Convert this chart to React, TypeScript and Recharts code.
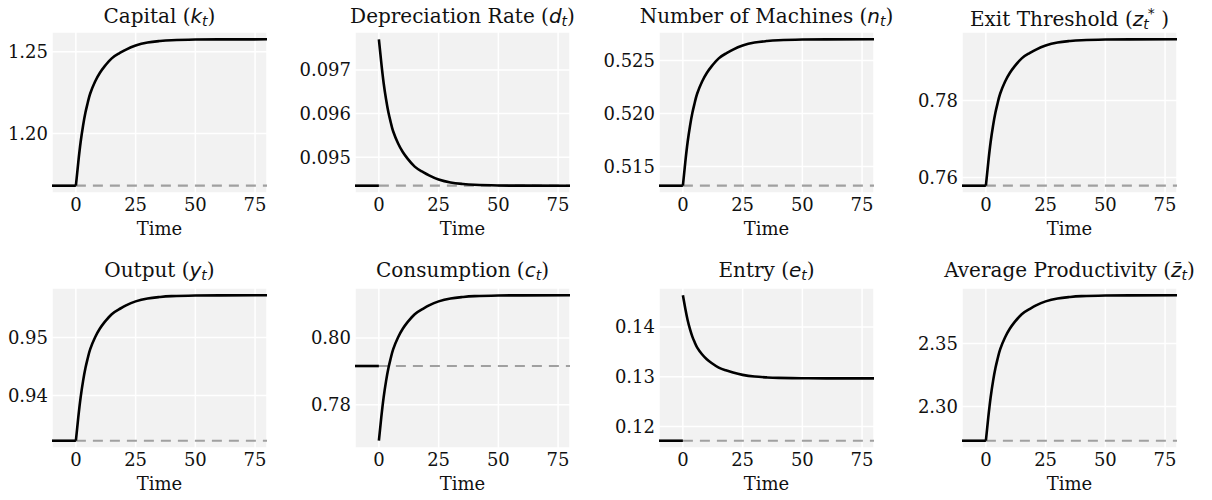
import React from "react";
import { LineChart, Line, XAxis, YAxis, CartesianGrid } from "recharts";

// time points of the transition path (t >= 0); pre-shock segment runs from -10 to 0
const times = [0, 1, 2, 3, 4, 5, 6, 8, 10, 12, 15, 18, 21, 25, 30, 35, 40, 50, 60, 80];

const capital = [1.1681, 1.18242, 1.19495, 1.20479, 1.21285, 1.21911, 1.22448, 1.23164, 1.23701, 1.24104, 1.24596, 1.24892, 1.25133, 1.25384, 1.25563, 1.25653, 1.25706, 1.25747, 1.25756, 1.2576];
const depreciation = [0.0977, 0.097164, 0.096695, 0.096327, 0.096025, 0.095791, 0.09559, 0.095322, 0.095121, 0.09497, 0.094786, 0.094675, 0.094585, 0.094491, 0.094424, 0.09439, 0.09437, 0.094355, 0.094351, 0.09435];
const machines = [0.5132, 0.515408, 0.51734, 0.518858, 0.5201, 0.521066, 0.521894, 0.522998, 0.523826, 0.524447, 0.525206, 0.525661, 0.526034, 0.52642, 0.526696, 0.526834, 0.526917, 0.526979, 0.526994, 0.527];
const exitThreshold = [0.7579, 0.76398, 0.7693, 0.77348, 0.7769, 0.77956, 0.78184, 0.78488, 0.78716, 0.78887, 0.79096, 0.792214, 0.79324, 0.794304, 0.795064, 0.795444, 0.795672, 0.795843, 0.795885, 0.7959];
const output = [0.93223, 0.936235, 0.939739, 0.942492, 0.944745, 0.946497, 0.947999, 0.950001, 0.951503, 0.952629, 0.954006, 0.954832, 0.955508, 0.956209, 0.956709, 0.95696, 0.95711, 0.957222, 0.95725, 0.95726];
const consumption = [0.76926, 0.776228, 0.782325, 0.787115, 0.791035, 0.794083, 0.796696, 0.80018, 0.802793, 0.804753, 0.807148, 0.808586, 0.809761, 0.810981, 0.811852, 0.812287, 0.812549, 0.812745, 0.812793, 0.81281];
const entry = [0.14636, 0.14369, 0.141353, 0.139517, 0.138015, 0.136847, 0.135845, 0.13451, 0.133509, 0.132758, 0.13184, 0.131289, 0.130838, 0.130371, 0.130037, 0.12987, 0.12977, 0.129695, 0.129677, 0.12967];
const avgProductivity = [2.2729, 2.291342, 2.307478, 2.320157, 2.33053, 2.338598, 2.345514, 2.354735, 2.36165, 2.366837, 2.373176, 2.37698, 2.380092, 2.383319, 2.385624, 2.386777, 2.387468, 2.387987, 2.388114, 2.38816];

// initial steady state of each variable, same order as the panels
const initialSteadyState = [1.1681, 0.09435, 0.5132, 0.7579, 0.93223, 0.79163, 0.11715, 2.2729];

const yTicks = [
  [1.2, 1.25],
  [0.095, 0.096, 0.097],
  [0.515, 0.52, 0.525],
  [0.76, 0.78],
  [0.94, 0.95],
  [0.78, 0.8],
  [0.12, 0.13, 0.14],
  [2.3, 2.35],
];
const yDecimals = [2, 3, 3, 2, 2, 2, 2, 2];
const xTicks = [0, 25, 50, 75];

const serif = "'DejaVu Serif', serif";
const sans = "'DejaVu Sans', sans-serif";

const M = ({ children }: { children: React.ReactNode }) => (
  <span style={{ fontFamily: sans, fontStyle: "italic" }}>{children}</span>
);
const Sub = ({ children }: { children: React.ReactNode }) => (
  <span style={{ fontFamily: sans, fontStyle: "italic", fontSize: "0.7em", verticalAlign: "-0.22em" }}>{children}</span>
);

const titles: React.ReactNode[] = [
  <>Capital (<M>k</M><Sub>t</Sub>)</>,
  <>Depreciation Rate (<M>d</M><Sub>t</Sub>)</>,
  <>Number of Machines (<M>n</M><Sub>t</Sub>)</>,
  <>Exit Threshold (<M>z</M><Sub>t</Sub><span style={{ fontFamily: sans, fontSize: "0.7em", verticalAlign: "0.6em", marginLeft: -1 }}>*</span> )</>,
  <>Output (<M>y</M><Sub>t</Sub>)</>,
  <>Consumption (<M>c</M><Sub>t</Sub>)</>,
  <>Entry (<M>e</M><Sub>t</Sub>)</>,
  <>Average Productivity (<M>{"z\u0304"}</M><Sub>t</Sub>)</>,
];

const series = [capital, depreciation, machines, exitThreshold, output, consumption, entry, avgProductivity];

function buildRows(values: number[], before: number) {
  const rows: { t: number; pre: number | null; post: number | null; ss: number | null }[] = [
    { t: -10, pre: before, post: null, ss: null },
  ];
  times.forEach((t, i) => {
    rows.push({ t, pre: t === 0 ? before : null, post: values[i], ss: before });
  });
  return rows;
}

const PANEL_W = 303;
const PANEL_H = 250;
const plotLefts = [52, 52, 53, 53];
const PLOT_W = 215;

function Panel({ index }: { index: number }) {
  const col = index % 4;
  const row = Math.floor(index / 4);
  const values = series[index];
  const before = initialSteadyState[index];
  const rows = buildRows(values, before);
  const all = [...values, before];
  const lo = Math.min(...all);
  const hi = Math.max(...all);
  const pad = (hi - lo) * 0.05;
  const plotLeft = plotLefts[col];
  const top = row === 0 ? 32 : 38;
  const bottom = row === 0 ? 7 : 2;
  const tickStyle = { fill: "#111", fontSize: 18, fontFamily: serif };

  return (
    <div style={{ position: "absolute", left: col * PANEL_W, top: row * PANEL_H, width: PANEL_W, height: PANEL_H }}>
      <div
        style={{
          position: "absolute",
          left: plotLeft + PLOT_W / 2 - 150,
          width: 300,
          top: row === 0 ? 6 : 10,
          textAlign: "center",
          fontFamily: serif,
          fontSize: 20,
          lineHeight: 1,
          color: "#111",
          whiteSpace: "nowrap",
        }}
      >
        {titles[index]}
      </div>
      <LineChart
        width={PANEL_W}
        height={PANEL_H}
        data={rows}
        margin={{ top, right: PANEL_W - plotLeft - PLOT_W, bottom, left: 0 }}
      >
        <CartesianGrid fill="#f2f2f2" fillOpacity={1} stroke="#ffffff" strokeWidth={1.5} />
        <XAxis
          type="number"
          dataKey="t"
          domain={[-10, 80]}
          ticks={xTicks}
          allowDataOverflow
          interval={0}
          axisLine={false}
          tickLine={false}
          tickSize={0}
          tickMargin={5}
          height={50}
          tick={tickStyle}
          label={{
            content: (props: any) => {
              const vb = props.viewBox || {};
              return (
                <text x={vb.x + vb.width / 2} y={vb.y + 42} textAnchor="middle" fontFamily={serif} fontSize={18} fill="#111">
                  Time
                </text>
              );
            },
          }}
        />
        <YAxis
          type="number"
          domain={[lo - pad, hi + pad]}
          allowDataOverflow
          ticks={yTicks[index]}
          interval={0}
          width={plotLeft}
          axisLine={false}
          tickLine={false}
          tickSize={0}
          tickMargin={4}
          tick={tickStyle}
          tickFormatter={(v: number) => v.toFixed(yDecimals[index])}
        />
        <Line type="linear" dataKey="ss" stroke="#a0a0a0" strokeWidth={2.2} strokeDasharray="10 7" dot={false} isAnimationActive={false} connectNulls />
        <Line type="linear" dataKey="pre" stroke="#000000" strokeWidth={2.6} dot={false} isAnimationActive={false} />
        <Line type="natural" dataKey="post" stroke="#000000" strokeWidth={2.6} dot={false} isAnimationActive={false} />
      </LineChart>
    </div>
  );
}

export default function App() {
  return (
    <div style={{ position: "absolute", left: 0, top: 0, width: 1212, height: 500, background: "#ffffff" }}>
      <style>{".recharts-surface{overflow:visible}"}</style>
      {series.map((_, i) => (
        <Panel key={i} index={i} />
      ))}
    </div>
  );
}
